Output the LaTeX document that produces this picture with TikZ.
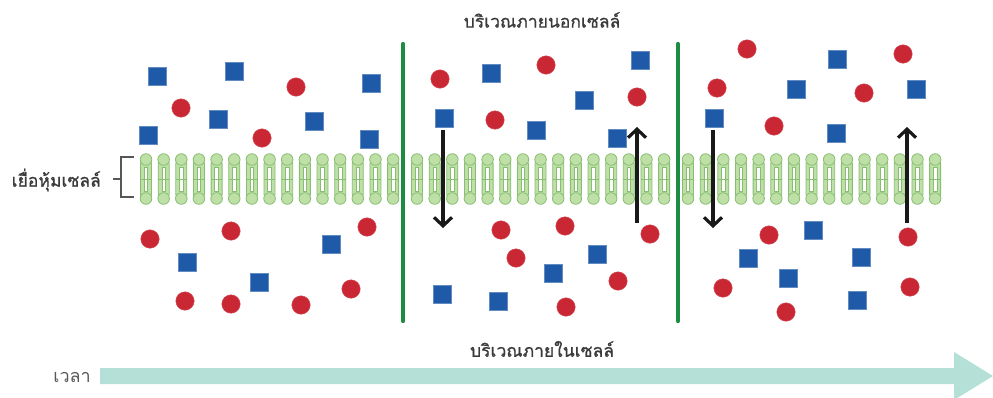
\documentclass[tikz,border=0pt]{standalone}
\usepackage{fontspec}
\newfontfamily\thaifont[Script=Thai,FakeBold=0.9]{Loma}
\newfontfamily\thaiplain[Script=Thai]{Loma}
\usetikzlibrary{arrows.meta}
\definecolor{lipidfill}{HTML}{BEE0A6}
\definecolor{lipidline}{HTML}{88BE72}
\definecolor{ionred}{HTML}{C92733}
\definecolor{ionblue}{HTML}{1F5AA8}
\definecolor{wallgreen}{HTML}{1C8C42}
\definecolor{timeteal}{HTML}{B4E0D8}
\definecolor{labelgrey}{HTML}{3A3A3A}
\tikzset{
  x=1pt, y=-1pt,
  redion/.style={circle, fill=ionred, draw=ionred!80!white, line width=0.4pt, minimum size=18.5pt, inner sep=0pt},
  blueion/.style={rectangle, fill=ionblue, draw=ionblue!70!white, line width=0.4pt, minimum size=18.5pt, inner sep=0pt},
  wall/.style={draw=wallgreen, line width=4.2pt, line cap=round},
  transport/.style={draw=black!90, line width=3.4pt, -{Straight Barb[length=8.5pt,width=18pt,line width=3.2pt]}},
  region/.style={font=\thaifont\fontsize{17.5}{20}\selectfont, text=labelgrey, inner sep=0pt},
  lipid/.pic={
    \filldraw[fill=lipidfill, draw=lipidline, line width=0.8pt, rounded corners=2.5pt]
      (-5.5,-18) rectangle (5.5,18);
    \filldraw[fill=white, draw=lipidline, line width=0.7pt]
      (-1.8,-12) rectangle (1.8,12);
    \draw[lipidline, line width=0.5pt] (-5.5,0) -- (5.5,0);
    \filldraw[fill=lipidfill, draw=lipidline, line width=0.8pt] (0,-19.5) circle (5.8);
    \filldraw[fill=lipidfill, draw=lipidline, line width=0.8pt] (0,19.5) circle (5.8);
  }
}
\begin{document}
\begin{tikzpicture}
\useasboundingbox[fill=white] (0,0) rectangle (993,397);

% membrane: three segments of phospholipid pairs
\foreach \start in {146,417,688}{
  \foreach \k in {0,...,14}{
    \pic at ({\start+\k*17.65},179) {lipid};
  }
}

% bracket and membrane label
\draw[labelgrey!85, line width=1.5pt] (134,157) -- (121,157) -- (121,197) -- (134,197);
\draw[labelgrey!85, line width=1.5pt] (121,179) -- (113,179);
\node[region, anchor=east] (memlabel) at (101,180) {เยื่อหุ้มเซลล์};

% region labels
\node[region] (outside) at (542,20) {บริเวณภายนอกเซลล์};
\node[region] (inside) at (542,349) {บริเวณภายในเซลล์};

% time axis
\fill[timeteal] (100,368) -- (954,368) -- (954,352) -- (993,376) -- (954,400) -- (954,384) -- (100,384) -- cycle;
\node[font=\thaiplain\fontsize{18}{20}\selectfont, text=labelgrey!85, anchor=east, inner sep=0pt] (timelabel) at (91,377) {เวลา};

% dividers between time steps
\coordinate (w1t) at (403,44); \coordinate (w1b) at (403,321);
\coordinate (w2t) at (678,44); \coordinate (w2b) at (678,321);
\draw[wall] (w1t) -- (w1b);
\draw[wall] (w2t) -- (w2b);

% blue particles
\foreach \px/\py [count=\i] in {157/76,234/71,371/83,218/119,314/121,148/135,369/139,331/244,187/262,259/282,
  491/73,640/60,584/100,444/118,536/130,617/138,597/254,553/273,442/294,498/301,
  837/59,796/89,916/89,714/118,836/133,813/230,748/258,861/257,788/278,857/300}{
  \node[blueion] (b\i) at (\px,\py) {};
}

% red particles
\foreach \px/\py [count=\i] in {181/108,296/87,262/138,150/239,231/231,367/227,351/289,185/301,231/304,301/305,
  440/79,546/65,637/97,495/120,501/230,565/226,650/234,516/258,618/281,566/307,
  747/49,903/54,717/88,864/93,774/126,769/235,908/237,723/288,910/287,786/312}{
  \node[redion] (r\i) at (\px,\py) {};
}

% transport arrows across the membrane
\coordinate (a1s) at (443,130); \coordinate (a1e) at (443,228);
\coordinate (a2s) at (637,223); \coordinate (a2e) at (637,127);
\coordinate (a3s) at (713,130); \coordinate (a3e) at (713,228);
\coordinate (a4s) at (907,223); \coordinate (a4e) at (907,127);
\draw[transport] (a1s) -- (a1e);
\draw[transport] (a2s) -- (a2e);
\draw[transport] (a3s) -- (a3e);
\draw[transport] (a4s) -- (a4e);
\end{tikzpicture}
\end{document}
